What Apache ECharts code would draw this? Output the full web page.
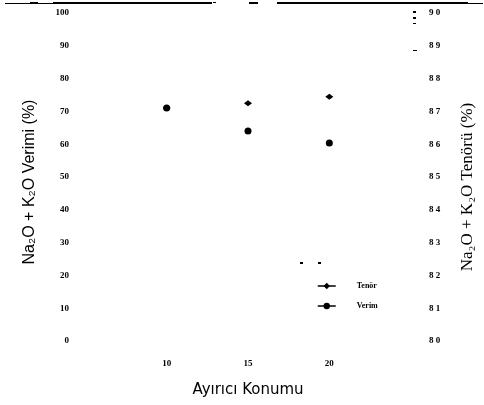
<!DOCTYPE html>
<html><head><meta charset="utf-8">
<script src="https://cdn.jsdelivr.net/npm/echarts@6/dist/echarts.min.js"></script>
<style>html,body{margin:0;padding:0;background:#fff}#c{width:484px;height:405px}</style>
</head><body><div id="c"></div>
<script>
var categories = ['10', '15', '20'];
var verim = [71, 64, 60.4];
var tenor = [87.1, 87.25, 87.45];
var leftTicks = {min: 0, max: 100, interval: 10};
var rightTicks = {min: 80, max: 90, interval: 1};

var chart = echarts.init(document.getElementById('c'));
var serif = 'Liberation Serif';
var lblStyle = {color: '#000', fontFamily: serif, fontWeight: 'bold', fontSize: 9};
chart.setOption({
  animation: false,
  backgroundColor: '#fff',
  grid: {left: 126, right: 111, top: 13, bottom: 64},
  xAxis: {
    type: 'category', data: categories, boundaryGap: true,
    axisLine: {show: false}, axisTick: {show: false}, splitLine: {show: false},
    axisLabel: Object.assign({margin: 18}, lblStyle),
    name: 'Ayırıcı Konumu', nameLocation: 'middle', nameGap: 42,
    nameTextStyle: {color: '#000', fontFamily: 'DejaVu Sans', fontSize: 15}
  },
  yAxis: [{
    type: 'value', min: leftTicks.min, max: leftTicks.max, interval: leftTicks.interval,
    axisLine: {show: false}, axisTick: {show: false}, splitLine: {show: false},
    axisLabel: Object.assign({margin: 57}, lblStyle),
    name: 'Na₂O + K₂O Verimi (%)', nameLocation: 'middle', nameRotate: 90, nameGap: 88,
    nameTextStyle: {color: '#000', fontFamily: 'Liberation Sans', fontSize: 16, padding: [0, 10, 0, 0]}
  }, {
    type: 'value', position: 'right', min: rightTicks.min, max: rightTicks.max, interval: rightTicks.interval,
    axisLine: {show: false}, axisTick: {show: false}, splitLine: {show: false},
    axisLabel: Object.assign({margin: 59, formatter: function (v) { return String(v).split('').join(' '); }}, lblStyle),
    name: 'Na₂O + K₂O Tenörü (%)', nameLocation: 'middle', nameRotate: 90, nameGap: 89,
    nameTextStyle: {color: '#000', fontFamily: serif, fontSize: 17, padding: [0, 20, 0, 0]}
  }],
  legend: {
    orient: 'vertical', left: 312, top: 277, itemWidth: 18, itemHeight: 8, itemGap: 12,
    textStyle: {color: '#000', fontFamily: serif, fontWeight: 'bold', fontSize: 8, padding: [0, 0, 0, 16]},
    lineStyle: {color: '#000', width: 1.5, opacity: 1, type: 'solid'},
    data: ['Tenör', 'Verim']
  },
  series: [{
    name: 'Tenör', type: 'line', yAxisIndex: 1, data: tenor,
    symbol: 'diamond', symbolSize: [8, 6], showSymbol: true,
    itemStyle: {color: '#000'}, lineStyle: {opacity: 0, color: '#000'}, z: 3
  }, {
    name: 'Verim', type: 'line', yAxisIndex: 0, data: verim,
    symbol: 'circle', symbolSize: 7, showSymbol: true,
    itemStyle: {color: '#000'}, lineStyle: {opacity: 0, color: '#000'}, z: 2
  }],
  graphic: [
    {type: 'rect', shape: {x: 5, y: 3, width: 25, height: 1}, style: {fill: '#000'}},
    {type: 'rect', shape: {x: 30, y: 2, width: 8, height: 2}, style: {fill: '#000'}},
    {type: 'rect', shape: {x: 38, y: 3, width: 15, height: 1}, style: {fill: '#000'}},
    {type: 'rect', shape: {x: 53, y: 2, width: 159, height: 2}, style: {fill: '#000'}},
    {type: 'rect', shape: {x: 213, y: 2, width: 3, height: 1}, style: {fill: '#000'}},
    {type: 'rect', shape: {x: 249, y: 2, width: 9, height: 2}, style: {fill: '#000'}},
    {type: 'rect', shape: {x: 277, y: 2, width: 191, height: 2}, style: {fill: '#000'}},
    {type: 'rect', shape: {x: 468, y: 3, width: 15, height: 1}, style: {fill: '#000'}},
    {type: 'rect', shape: {x: 413, y: 11, width: 3, height: 2}, style: {fill: '#000'}},
    {type: 'rect', shape: {x: 413, y: 17, width: 3, height: 2}, style: {fill: '#000'}},
    {type: 'rect', shape: {x: 413, y: 23, width: 3, height: 1}, style: {fill: '#000'}},
    {type: 'rect', shape: {x: 413, y: 50, width: 4, height: 1}, style: {fill: '#000'}},
    {type: 'rect', shape: {x: 300, y: 262, width: 3, height: 2}, style: {fill: '#000'}},
    {type: 'rect', shape: {x: 318, y: 262, width: 3, height: 2}, style: {fill: '#000'}}
  ]
});
</script></body></html>
